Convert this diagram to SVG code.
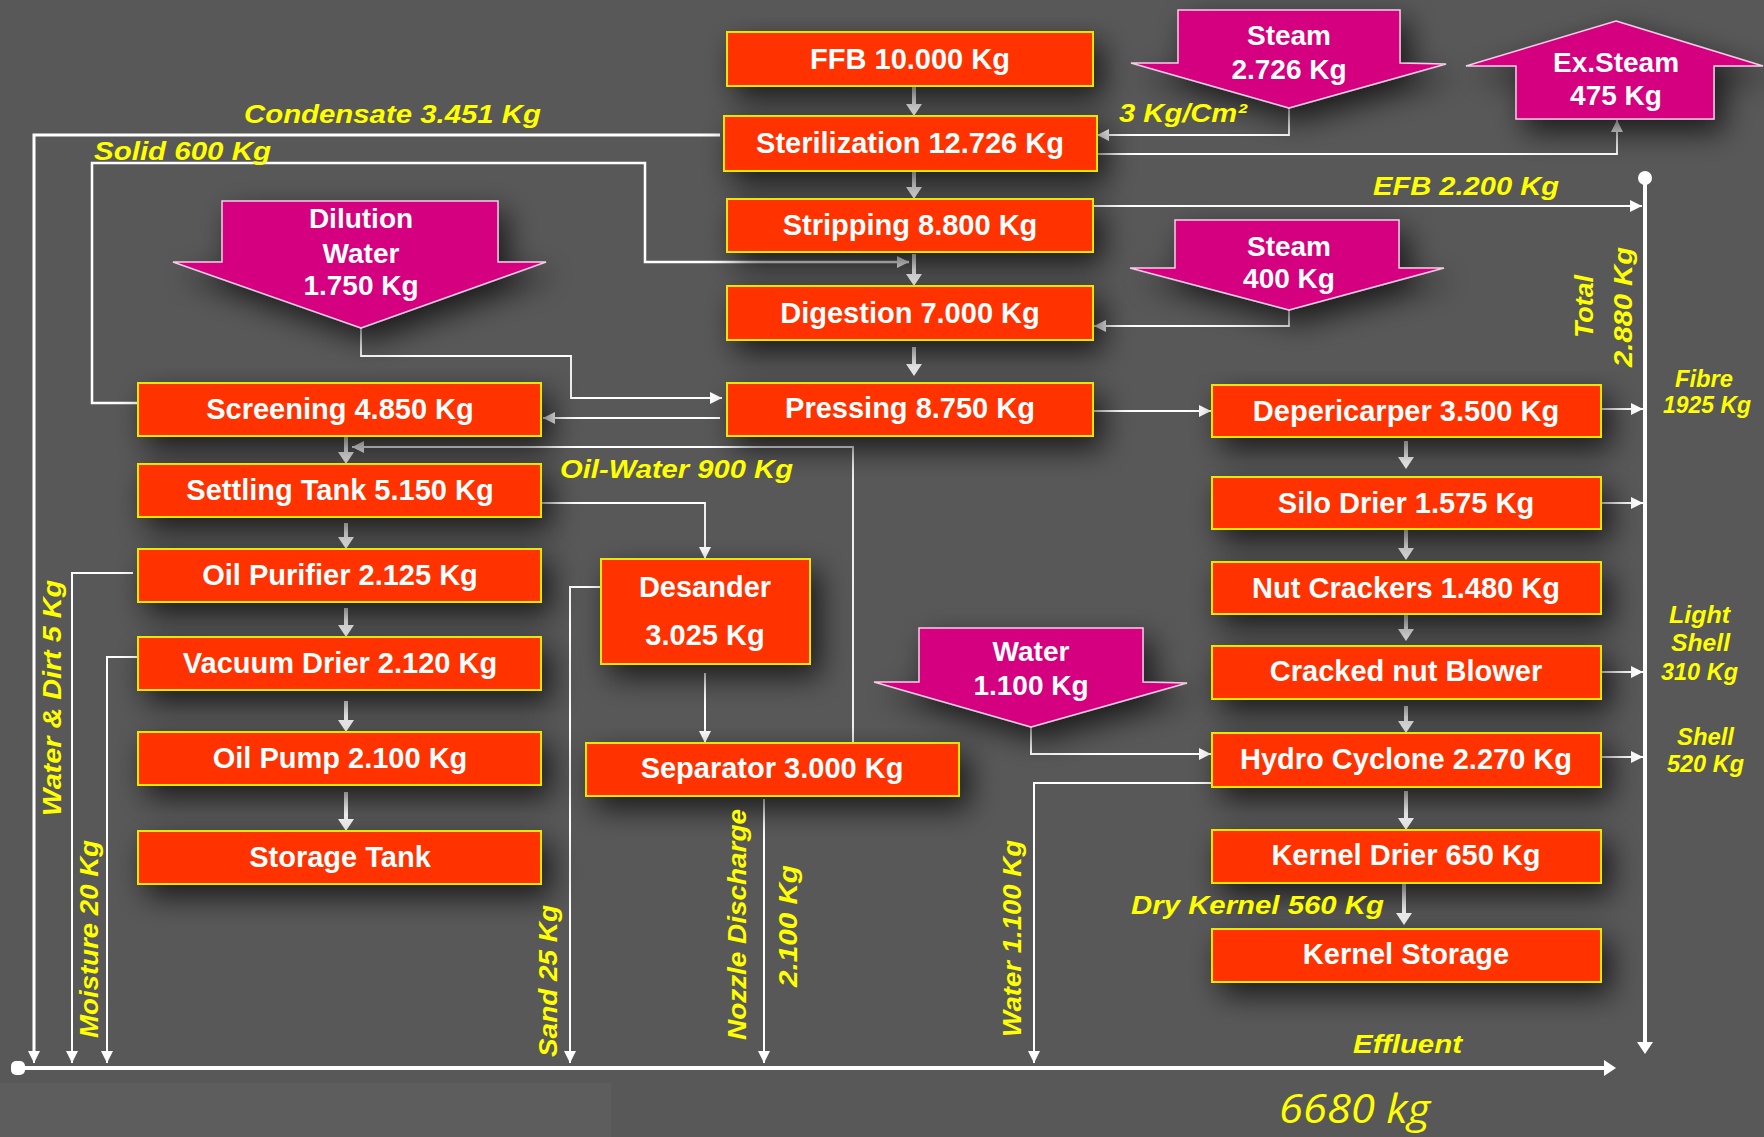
<svg xmlns="http://www.w3.org/2000/svg" width="1764" height="1137" viewBox="0 0 1764 1137">
<defs>
<style>
.box{fill:#FF3300;stroke:#E8E800;stroke-width:2;filter:url(#sh)}
.mag{fill:#D4007F;stroke:#F4CCE6;stroke-width:1.5;filter:url(#sh)}
.bt{font-family:"Liberation Sans",Arial,sans-serif;font-weight:bold;font-size:29px;fill:#FFFFFF;text-anchor:middle}
.mt{font-family:"Liberation Sans",Arial,sans-serif;font-weight:bold;font-size:28px;fill:#FFFFFF;text-anchor:middle}
.yl{font-family:"Liberation Sans",Arial,sans-serif;font-weight:bold;font-style:italic;font-size:26px;fill:#FFFF00}
.ys{font-family:"Liberation Sans",Arial,sans-serif;font-weight:bold;font-style:italic;font-size:23px;fill:#FFFF00}
.big{fill:none;stroke:#FFFFFF;stroke-width:4;marker-end:url(#ab)}
.thin{fill:none;stroke:#FFFFFF;stroke-width:1.8;marker-end:url(#at)}
.drop{fill:none;stroke:#FFFFFF;stroke-width:2;marker-end:url(#at)}
</style>
<filter id="sh" x="-25%" y="-50%" width="160%" height="230%">
<feGaussianBlur in="SourceAlpha" stdDeviation="15"/>
<feOffset dx="9" dy="12"/>
<feComponentTransfer><feFuncA type="linear" slope="0.7"/></feComponentTransfer>
<feMerge><feMergeNode/><feMergeNode in="SourceGraphic"/></feMerge>
</filter>
<marker id="ab" viewBox="0 0 12 16" refX="8" refY="8" markerWidth="12" markerHeight="16" markerUnits="userSpaceOnUse" orient="auto"><path d="M0,0 L12,8 L0,16 z" fill="#FFFFFF"/></marker>
<marker id="at" viewBox="0 0 12 12" refX="12" refY="6" markerWidth="12" markerHeight="12" markerUnits="userSpaceOnUse" orient="auto"><path d="M0,0 L12,6 L0,12 z" fill="#FFFFFF"/></marker>
</defs>
<rect x="0" y="0" width="1764" height="1137" fill="#585858"/>
<rect x="0" y="1083" width="611" height="54" fill="#5d5d5d"/>

<g id="connectors">
<path class="big" d="M914,86 V112"/>
<path class="big" d="M914,171 V195"/>
<path class="big" d="M914,254 V282"/>
<path class="big" d="M914,347 V372"/>
<path class="big" d="M346,437 V460"/>
<path class="big" d="M346,523 V545"/>
<path class="big" d="M346,608 V633"/>
<path class="big" d="M346,701 V728"/>
<path class="big" d="M346,792 V827"/>
<path class="big" d="M1406,441 V465"/>
<path class="big" d="M1406,530 V556"/>
<path class="big" d="M1406,614 V637"/>
<path class="big" d="M1406,706 V729"/>
<path class="big" d="M1406,791 V826"/>
<path class="big" d="M1404,883 V921"/>
<path fill="none" stroke="#FFFFFF" stroke-width="3" d="M720,135 H34 V1052"/>
<path class="drop" d="M34,1050 V1063"/>
<path fill="none" stroke="#FFFFFF" stroke-width="2.5" marker-end="url(#at)" d="M138,403 H92 V163 H645 V262 H909"/>
<path class="thin" d="M361,328 V356 H571 V398 H722"/>
<path class="thin" d="M720,418 H543"/>
<path class="thin" d="M853,743 V447 H352"/>
<path class="thin" d="M541,503 H705 V559"/>
<path class="drop" d="M133,573 H72 V1063"/>
<path class="drop" d="M138,657 H107 V1063"/>
<path class="drop" d="M601,587 H570 V1063"/>
<path class="drop" d="M705,673 V743"/>
<path class="drop" d="M764,799 V1063"/>
<path class="drop" d="M1212,783 H1034 V1063"/>
<path class="drop" d="M1031,727 V754 H1211"/>
<path class="thin" d="M1289,108 V135 H1097"/>
<path class="thin" d="M1097,154 H1617 V120"/>
<path class="thin" d="M1093,206 H1642"/>
<path class="thin" d="M1289,310 V326 H1094"/>
<path class="thin" d="M1093,411 H1211"/>
<path class="thin" d="M1601,409 H1643"/>
<path class="thin" d="M1601,503 H1643"/>
<path class="drop" d="M1601,672 H1643"/>
<path class="drop" d="M1601,757 H1643"/>
<path class="big" d="M1645,178 V1050"/>
<circle cx="1645" cy="178" r="7" fill="#FFFFFF"/>
<path class="big" d="M18,1068 H1612"/>
<rect x="11" y="1061" width="14" height="14" rx="5" fill="#FFFFFF"/>
</g>

<g id="ffb"><rect class="box" x="727" y="32" width="366" height="54"/><text class="bt" x="910" y="69">FFB 10.000 Kg</text></g>
<g id="sterilization"><rect class="box" x="724" y="116" width="373" height="55"/><text class="bt" x="910" y="153">Sterilization 12.726 Kg</text></g>
<g id="stripping"><rect class="box" x="727" y="199" width="366" height="53"/><text class="bt" x="910" y="235">Stripping 8.800 Kg</text></g>
<g id="digestion"><rect class="box" x="727" y="286" width="366" height="54"/><text class="bt" x="910" y="323">Digestion 7.000 Kg</text></g>
<g id="pressing"><rect class="box" x="727" y="383" width="366" height="53"/><text class="bt" x="910" y="418">Pressing 8.750 Kg</text></g>

<g id="screening"><rect class="box" x="138" y="383" width="403" height="53"/><text class="bt" x="340" y="419">Screening 4.850 Kg</text></g>
<g id="settling"><rect class="box" x="138" y="464" width="403" height="53"/><text class="bt" x="340" y="500">Settling Tank 5.150 Kg</text></g>
<g id="oilpurifier"><rect class="box" x="138" y="549" width="403" height="53"/><text class="bt" x="340" y="585">Oil Purifier 2.125 Kg</text></g>
<g id="vacuum"><rect class="box" x="138" y="637" width="403" height="53"/><text class="bt" x="340" y="673">Vacuum Drier 2.120 Kg</text></g>
<g id="oilpump"><rect class="box" x="138" y="732" width="403" height="53"/><text class="bt" x="340" y="768">Oil Pump 2.100 Kg</text></g>
<g id="storage"><rect class="box" x="138" y="831" width="403" height="53"/><text class="bt" x="340" y="867">Storage Tank</text></g>

<g id="desander"><rect class="box" x="601" y="559" width="209" height="105"/><text class="bt" x="705" y="597">Desander</text><text class="bt" x="705" y="645">3.025 Kg</text></g>
<g id="separator"><rect class="box" x="586" y="743" width="373" height="53"/><text class="bt" x="772" y="778">Separator 3.000 Kg</text></g>

<g id="depericarper"><rect class="box" x="1212" y="385" width="389" height="52"/><text class="bt" x="1406" y="421">Depericarper 3.500 Kg</text></g>
<g id="silodrier"><rect class="box" x="1212" y="477" width="389" height="52"/><text class="bt" x="1406" y="513">Silo Drier 1.575 Kg</text></g>
<g id="nutcrackers"><rect class="box" x="1212" y="562" width="389" height="52"/><text class="bt" x="1406" y="598">Nut Crackers 1.480 Kg</text></g>
<g id="blower"><rect class="box" x="1212" y="646" width="389" height="53"/><text class="bt" x="1406" y="681">Cracked nut Blower</text></g>
<g id="hydrocyclone"><rect class="box" x="1212" y="733" width="389" height="54"/><text class="bt" x="1406" y="769">Hydro Cyclone 2.270 Kg</text></g>
<g id="kerneldrier"><rect class="box" x="1212" y="830" width="389" height="53"/><text class="bt" x="1406" y="865">Kernel Drier 650 Kg</text></g>
<g id="kernelstorage"><rect class="box" x="1212" y="929" width="389" height="53"/><text class="bt" x="1406" y="964">Kernel Storage</text></g>

<g id="steam1"><polygon class="mag" points="1178,10 1400,10 1400,63 1446,64 1289,108 1131,63 1178,63"/><text class="mt" x="1289" y="45">Steam</text><text class="mt" x="1289" y="79">2.726 Kg</text></g>
<g id="exsteam"><polygon class="mag" points="1616,21 1763,66 1714,66 1714,119 1516,119 1516,66 1466,66"/><text class="mt" x="1616" y="72">Ex.Steam</text><text class="mt" x="1616" y="105">475 Kg</text></g>
<g id="steam2"><polygon class="mag" points="1175,220 1399,220 1399,268 1444,268 1289,310 1130,268 1175,268"/><text class="mt" x="1289" y="256">Steam</text><text class="mt" x="1289" y="288">400 Kg</text></g>
<g id="dilution"><polygon class="mag" points="222,201 498,201 498,262 546,262 361,328 173,262 222,262"/><text class="mt" x="361" y="228">Dilution</text><text class="mt" x="361" y="263">Water</text><text class="mt" x="361" y="295">1.750 Kg</text></g>
<g id="water"><polygon class="mag" points="919,628 1143,628 1143,682 1187,683 1031,727 874,682 919,682"/><text class="mt" x="1031" y="661">Water</text><text class="mt" x="1031" y="695">1.100 Kg</text></g>

<g id="labels">
<text class="yl" x="244" y="123" textLength="297" lengthAdjust="spacingAndGlyphs">Condensate 3.451 Kg</text>
<text class="yl" x="94" y="160" textLength="177" lengthAdjust="spacingAndGlyphs">Solid 600 Kg</text>
<text class="yl" x="1119" y="122" textLength="128" lengthAdjust="spacingAndGlyphs">3 Kg/Cm²</text>
<text class="yl" x="1373" y="195" textLength="186" lengthAdjust="spacingAndGlyphs">EFB 2.200 Kg</text>
<text class="yl" x="560" y="478" textLength="233" lengthAdjust="spacingAndGlyphs">Oil-Water 900 Kg</text>
<text class="yl" x="1131" y="914" textLength="253" lengthAdjust="spacingAndGlyphs">Dry Kernel 560 Kg</text>
<text class="yl" x="1353" y="1053" textLength="109" lengthAdjust="spacingAndGlyphs">Effluent</text>
<text class="yl" x="61" y="816" transform="rotate(-90 61 816)" textLength="236" lengthAdjust="spacingAndGlyphs">Water &amp; Dirt 5 Kg</text>
<text class="yl" x="98" y="1038" transform="rotate(-90 98 1038)" textLength="198" lengthAdjust="spacingAndGlyphs">Moisture 20 Kg</text>
<text class="yl" x="557" y="1057" transform="rotate(-90 557 1057)" textLength="152" lengthAdjust="spacingAndGlyphs">Sand 25 Kg</text>
<text class="yl" x="746" y="1040" transform="rotate(-90 746 1040)" textLength="231" lengthAdjust="spacingAndGlyphs">Nozzle Discharge</text>
<text class="yl" x="797" y="987" transform="rotate(-90 797 987)" textLength="122" lengthAdjust="spacingAndGlyphs">2.100 Kg</text>
<text class="yl" x="1021" y="1037" transform="rotate(-90 1021 1037)" textLength="197" lengthAdjust="spacingAndGlyphs">Water 1.100 Kg</text>
<text class="yl" x="1593" y="338" transform="rotate(-90 1593 338)" textLength="63" lengthAdjust="spacingAndGlyphs">Total</text>
<text class="yl" x="1632" y="367" transform="rotate(-90 1632 367)" textLength="120" lengthAdjust="spacingAndGlyphs">2.880 Kg</text>
<text class="ys" x="1675" y="387" textLength="58" lengthAdjust="spacingAndGlyphs">Fibre</text>
<text class="ys" x="1663" y="413" textLength="88" lengthAdjust="spacingAndGlyphs">1925 Kg</text>
<text class="ys" x="1669" y="623" textLength="61" lengthAdjust="spacingAndGlyphs">Light</text>
<text class="ys" x="1671" y="651" textLength="59" lengthAdjust="spacingAndGlyphs">Shell</text>
<text class="ys" x="1661" y="680" textLength="77" lengthAdjust="spacingAndGlyphs">310 Kg</text>
<text class="ys" x="1677" y="745" textLength="57" lengthAdjust="spacingAndGlyphs">Shell</text>
<text class="ys" x="1667" y="772" textLength="77" lengthAdjust="spacingAndGlyphs">520 Kg</text>
<text x="1279" y="1123" font-family="'Open Sans',sans-serif" font-style="italic" font-size="41" fill="#FFFF00" textLength="151" lengthAdjust="spacingAndGlyphs">6680 kg</text>
</g>
</svg>
